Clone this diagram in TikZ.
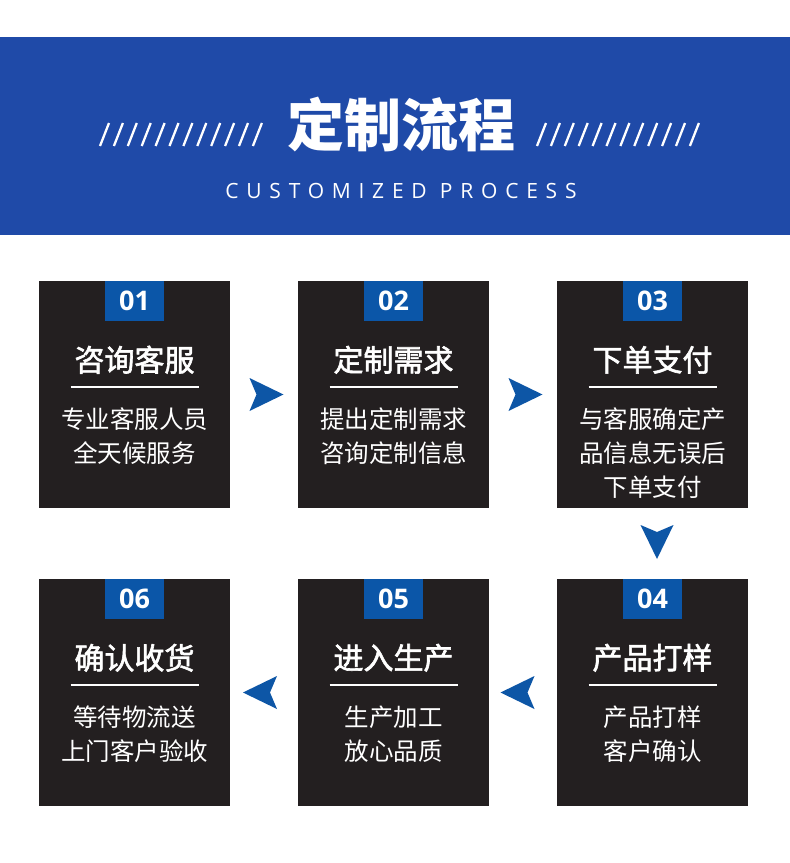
\documentclass[tikz,border=0pt]{standalone}
\usepackage{fontspec}
\setmainfont{Noto Sans CJK SC}
\newfontfamily\cjk{Noto Sans CJK SC}
\newfontfamily\cjkmed[FakeBold=2]{Noto Sans CJK SC}
\newfontfamily\numfont{Open Sans}
\newfontfamily\engfont[LetterSpace=37]{Open Sans}
\usetikzlibrary{calc}
\definecolor{banner}{RGB}{31,74,168}
\definecolor{boxbg}{RGB}{35,31,32}
\definecolor{tagblue}{RGB}{11,86,168}
\definecolor{arrowblue}{RGB}{13,86,166}
\tikzset{
  stepbox/.style={fill=boxbg, draw=none, minimum width=191pt, minimum height=227pt, inner sep=0pt},
  tagbox/.style={fill=tagblue, draw=none, minimum width=59pt, minimum height=40pt, inner sep=0pt, text=white,
    font=\numfont\bfseries\fontsize{27}{27}\selectfont, anchor=north},
  headtext/.style={text=white, inner sep=0pt, font=\cjkmed\fontsize{30}{30}\selectfont},
  bodytext/.style={text=white, inner sep=0pt, align=center, font=\cjk\fontsize{24.5}{34}\selectfont},
  rule/.style={draw=white, line width=2pt},
  slash/.style={draw=white, line width=2.3pt},
  rarrow/.pic={\fill[arrowblue] (-17,-16.5) -- (17,0) -- (-17,16.5) -- (-10,0) -- cycle;}
}
\begin{document}
\begin{tikzpicture}[x=1pt,y=-1pt]
\useasboundingbox (0,0) rectangle (790,863);
\fill[white] (0,0) rectangle (790,863);
% banner
\fill[banner] (0,37) rectangle (790,235);
\node[text=white, inner sep=0pt, font=\cjk\bfseries\fontsize{57}{57}\selectfont] (title) at (401,124) {定制流程};
\foreach \i in {0,...,11} {
  \draw[slash] (100+\i*13.9,146) -- (109+\i*13.9,123);
  \draw[slash] (537+\i*13.9,146) -- (546+\i*13.9,123);
}
\node[text=white, inner sep=0pt, font=\engfont\fontsize{21}{21}\selectfont] (sub) at (401,191) {CUSTOMIZED PROCESS};
% boxes
\node[stepbox] (b1) at (134.5,394.5) {};
\node[stepbox] (b2) at (393.5,394.5) {};
\node[stepbox] (b3) at (652.5,394.5) {};
\node[stepbox] (b4) at (652.5,692.5) {};
\node[stepbox] (b5) at (393.5,692.5) {};
\node[stepbox] (b6) at (134.5,692.5) {};
% tags
\node[tagbox] (t1) at (b1.north) {01};
\node[tagbox] (t2) at (b2.north) {02};
\node[tagbox] (t3) at (b3.north) {03};
\node[tagbox] (t4) at (b4.north) {04};
\node[tagbox] (t5) at (b5.north) {05};
\node[tagbox] (t6) at (b6.north) {06};
% headings, rules and bodies
\foreach \b/\h in {b1/咨询客服, b2/定制需求, b3/下单支付, b4/产品打样, b5/进入生产, b6/确认收货} {
  \node[headtext] (\b h) at ($(\b.north)+(0,79)$) {\h};
  \draw[rule] ($(\b.north)+(-64,106)$) -- ($(\b.north)+(64,106)$);
}
\node[bodytext] (d1) at ($(b1.north)+(0,155)$) {专业客服人员\\全天候服务};
\node[bodytext] (d2) at ($(b2.north)+(0,155)$) {提出定制需求\\咨询定制信息};
\node[bodytext] (d3) at ($(b3.north)+(0,172)$) {与客服确定产\\品信息无误后\\下单支付};
\node[bodytext] (d4) at ($(b4.north)+(0,155)$) {产品打样\\客户确认};
\node[bodytext] (d5) at ($(b5.north)+(0,155)$) {生产加工\\放心品质};
\node[bodytext] (d6) at ($(b6.north)+(0,155)$) {等待物流送\\上门客户验收};
% arrows
\pic at ($($(b1.east)!0.5!(b2.west)$)+(2.5,0)$) {rarrow};
\pic at ($($(b2.east)!0.5!(b3.west)$)+(2.5,0)$) {rarrow};
\pic[rotate=-90] at ($($(b3.south)!0.5!(b4.north)$)+(4.5,-1.5)$) {rarrow};
\pic[rotate=180] at ($($(b4.west)!0.5!(b5.east)$)+(-5.5,0)$) {rarrow};
\pic[rotate=180] at ($($(b5.west)!0.5!(b6.east)$)+(-4,0)$) {rarrow};
\end{tikzpicture}
\end{document}
